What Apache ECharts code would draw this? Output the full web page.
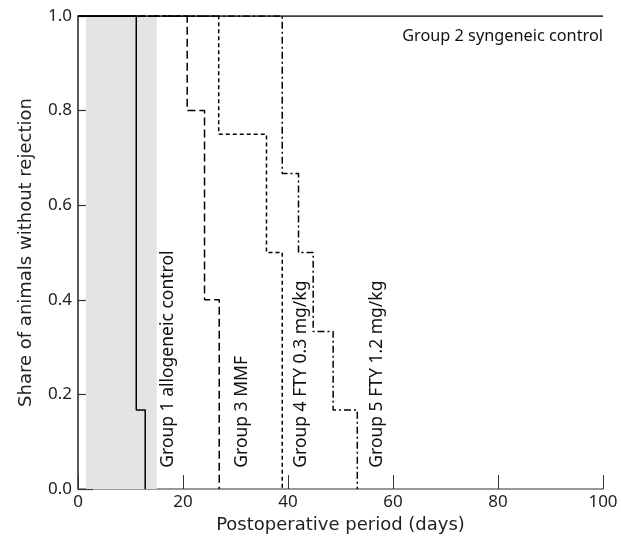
<!DOCTYPE html>
<html><head><meta charset="utf-8">
<script src="https://cdn.jsdelivr.net/npm/echarts@6/dist/echarts.min.js"></script>
<style>html,body{margin:0;padding:0;background:#fff}#c{width:621px;height:544px}</style>
</head><body><div id="c"></div>
<script>
// Kaplan-Meier style data: days at which share changes, and share after the change
const g1Days = [0, 11.1, 12.8];
const g1Share = [1, 0.167, 0];
const g2Days = [0, 100];
const g2Share = [1, 1];
const g3Days = [0, 20.8, 24.1, 26.9];
const g3Share = [1, 0.8, 0.4, 0];
const g4Days = [0, 26.8, 35.9, 38.9];
const g4Share = [1, 0.75, 0.5, 0];
const g5Days = [0, 38.9, 42.0, 44.8, 48.6, 53.2];
const g5Share = [1, 0.667, 0.5, 0.333, 0.167, 0];
const shadeRange = [1.5, 15];
const xTicks = [0, 20, 40, 60, 80, 100];
const yTicks = [0, 0.2, 0.4, 0.6, 0.8, 1.0];
const labels = [
  {text: 'Group 1 allogeneic control', day: 17.1, share: 0.045},
  {text: 'Group 3 MMF', day: 31.3, share: 0.045},
  {text: 'Group 4 FTY 0.3 mg/kg', day: 42.5, share: 0.045},
  {text: 'Group 5 FTY 1.2 mg/kg', day: 57.0, share: 0.045}
];
const g2Label = {text: 'Group 2 syngeneic control', day: 100, share: 0.957};

const FONT = 'Noto Sans';
const TFONT = 'DejaVu Sans';
const zip = (a, b) => a.map((v, i) => [v, b[i]]);
const chart = echarts.init(document.getElementById('c'));
function lineSeries(name, d, s, type, z) {
  return {
    name, type: 'line', step: 'end', data: zip(d, s), symbol: 'none', z: z,
    lineStyle: {color: '#000', width: 1.5, type: type}, silent: true, animation: false
  };
}
chart.setOption({
  animation: false,
  grid: {left: 78, right: 18, top: 16, bottom: 55},
  xAxis: {
    type: 'value', min: xTicks[0], max: xTicks[xTicks.length - 1], interval: 20,
    name: 'Postoperative period (days)', nameLocation: 'middle', nameGap: 24,
    nameTextStyle: {fontFamily: TFONT, fontSize: 18, color: '#222'},
    axisLine: {lineStyle: {color: '#777', width: 1.5}},
    axisTick: {inside: true, length: 14, lineStyle: {color: '#333', width: 1}},
    axisLabel: {fontFamily: FONT, fontSize: 17, color: '#222', margin: 5},
    splitLine: {show: false}
  },
  yAxis: {
    type: 'value', min: yTicks[0], max: yTicks[yTicks.length - 1], interval: 0.2,
    name: 'Share of animals without rejection', nameLocation: 'middle', nameGap: 43,
    nameTextStyle: {fontFamily: TFONT, fontSize: 18, color: '#222'},
    axisLine: {lineStyle: {color: '#222', width: 1.5}},
    axisTick: {inside: true, length: 15, lineStyle: {color: '#333', width: 1.2}},
    axisLabel: {fontFamily: FONT, fontSize: 17, color: '#222', margin: 6, formatter: v => v.toFixed(1)},
    splitLine: {show: false}
  },
  series: [
    {
      type: 'line', data: [], z: 1, silent: true,
      markArea: {silent: true, itemStyle: {color: '#e4e4e4'},
        data: [[{xAxis: shadeRange[0]}, {xAxis: shadeRange[1]}]]}
    },
    lineSeries('Group 1', g1Days, g1Share, 'solid', 3),
    lineSeries('Group 3', g3Days, g3Share, [8, 4], 3),
    lineSeries('Group 4', g4Days, g4Share, [4, 3], 3),
    lineSeries('Group 5', g5Days, g5Share, [7, 3, 2, 3], 3),
    lineSeries('Group 2', g2Days, g2Share, 'solid', 4)
  ]
});
const gfx = labels.map(l => {
  const p = chart.convertToPixel({gridIndex: 0}, [l.day, l.share]);
  return {type: 'text', x: p[0], y: p[1], rotation: Math.PI / 2, z: 10,
    style: {text: l.text, fontFamily: FONT, fontSize: 17.5, fill: '#111', align: 'left', verticalAlign: 'middle'}};
});
const p2 = chart.convertToPixel({gridIndex: 0}, [g2Label.day, g2Label.share]);
gfx.push({type: 'text', x: p2[0], y: p2[1], z: 10,
  style: {text: g2Label.text, fontFamily: FONT, fontSize: 16.3, fill: '#111', align: 'right', verticalAlign: 'middle'}});
chart.setOption({graphic: gfx});
</script></body></html>
